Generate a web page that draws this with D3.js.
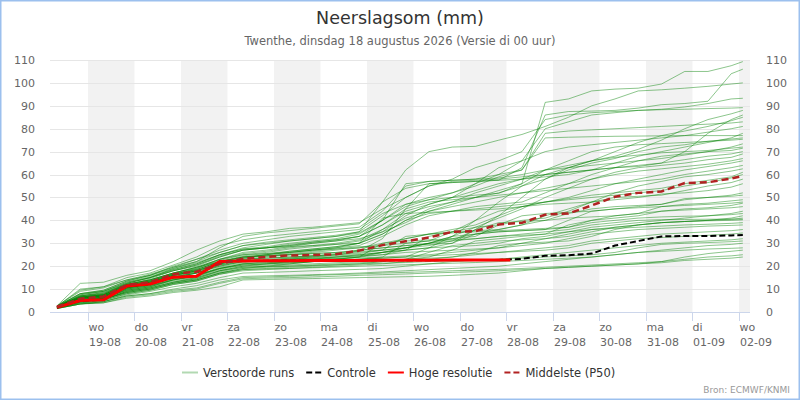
<!DOCTYPE html>
<html>
<head>
<meta charset="utf-8">
<script src="https://cdn.jsdelivr.net/npm/d3@7"></script>
<style>
  body { margin: 0; background: #fff; }
  svg { display: block; font-family: "DejaVu Sans", Verdana, sans-serif; }
</style>
</head>
<body>
<div id="chart"></div>
<script>
// uren vanaf di 18-08 00:00
const hours = [8, 20, 32, 44, 56, 68, 80, 92, 104, 116, 128, 140, 152, 164, 176, 188,
  200, 212, 224, 236, 248, 260, 272, 284, 296, 308, 320, 332, 344, 356, 362];
const hresHours = [8, 20, 32, 44, 56, 68, 80, 92, 104, 116, 128, 140, 152, 164, 176, 188,
  200, 212, 224, 236, 242];

const hres = [2.0, 5.0, 5.3, 11.3, 12.2, 15.2, 15.6, 22.0, 22.3, 22.4, 22.4, 22.5, 22.5, 22.5,
  22.6, 22.6, 22.6, 22.7, 22.7, 22.7, 22.7];
const controle = [2.0, 5.0, 5.3, 11.3, 12.2, 15.2, 15.6, 22.0, 22.3, 22.4, 22.4, 22.5, 22.5, 22.5,
  22.6, 22.6, 22.6, 22.7, 22.7, 22.7, 23.2, 24.5, 24.8, 25.5, 29, 31, 33, 33.2, 33.2, 33.4, 33.6];
const p50 = [2.3, 5.8, 6.8, 11.8, 13, 16.5, 17.6, 21, 23.3, 24, 24.7, 24.9, 25.2, 26.8, 29.2,
  30.9, 32.5, 35, 35.3, 38.2, 38.9, 42.5, 43, 46.5, 50.3, 52, 52.6, 56.3, 56.6, 58.3, 59.4];

const verstoordeRuns = [
  [2.6, 9, 10.5, 14, 16, 20, 23, 27, 30, 31.5, 33, 34, 35, 36, 43, 47, 49, 50, 51, 51.8, 56, 91.5, 93, 96.5, 97.3, 97.7, 99.5, 105, 105, 107.5, 109.3],
  [2.4, 7.5, 9, 12.5, 15, 19, 21.5, 25, 28, 29.5, 31, 32, 33, 35, 48, 54, 56, 56.5, 57, 57.5, 63, 86, 87.5, 87.7, 88, 89, 90.5, 91, 92, 104, 106],
  [2.5, 8, 9.5, 13.5, 16, 19.5, 22, 28, 33, 34.5, 35.5, 36.5, 37.5, 38.5, 48, 62, 70, 72, 72.3, 75, 77.5, 81, 85, 90, 93, 96.5, 97, 97.7, 98.5, 99.5, 100],
  [2.3, 6.5, 8, 12, 14, 17, 19.5, 23, 26, 27, 28.5, 30, 31, 33, 40, 46, 49, 52, 56, 60, 66, 80, 83, 86, 87, 88, 88.5, 89.5, 91, 93, 93.3],
  [2.7, 12.5, 13, 16, 18, 22, 27, 31, 34, 35, 36.5, 37, 38, 39, 45, 50, 55, 58, 63, 66, 70, 84, 86, 87, 87.5, 88, 88.3, 88.5, 88.8, 89, 89.2],
  [2.2, 6, 7, 11, 13, 16, 18, 21, 23.5, 25, 26, 27, 28, 30, 34, 40, 45, 48, 52, 55, 58, 62, 64, 66, 68, 71, 75, 80, 84, 86.5, 88],
  [2.4, 7, 8.5, 12, 14.5, 18, 20, 24, 27, 28, 29, 30.5, 31.5, 33, 38, 44, 47, 50, 53, 56, 58, 60, 61, 62, 63, 63.5, 65, 70, 78, 84, 86],
  [2.1, 5.5, 6.5, 10.5, 12, 15, 17, 20, 22, 22.5, 23, 23.5, 24, 24.5, 26, 28, 30, 33, 40, 48, 55, 60, 63, 66, 70, 74, 77, 79, 81, 83.5, 85],
  [2.6, 9.5, 11, 15, 17, 20.5, 24, 29, 31.5, 33, 34, 35, 36, 37, 44, 55, 57, 57.5, 58, 60, 62, 78, 79, 79.5, 80, 80.5, 81, 81.5, 82, 82.5, 83],
  [2.3, 6, 7.5, 11.5, 13.5, 16.5, 19, 22.5, 25, 26, 27.5, 28.5, 29.5, 31, 35, 42, 47, 50, 56, 63, 66, 70, 72, 73, 74, 75, 76, 77, 78.5, 80, 81],
  [2.0, 5, 6, 9.5, 11, 14, 16, 19, 21, 22, 23, 24, 25, 26.5, 32, 45, 56, 56.5, 57, 57.5, 58, 59, 60, 62, 65, 68, 70, 72, 74, 76, 78],
  [2.5, 10, 11, 14, 16.5, 19.5, 23, 26, 29, 30, 31, 32, 33, 34.5, 40, 47, 50, 52, 55, 59, 62, 76, 76.3, 76.5, 76.7, 76.8, 76.9, 77, 77, 77, 77],
  [2.2, 6.5, 7.5, 12, 14, 17, 19.5, 22, 24, 25, 26.5, 27.5, 28.5, 30, 36, 43, 46, 48, 50, 52, 55, 58, 62, 65, 67, 70, 72, 73, 74.5, 75.5, 76],
  [2.3, 7, 8, 12.5, 15, 18, 20.5, 24, 27, 28, 29, 30, 31, 32, 35, 39, 44, 47, 50, 53, 56, 62, 66, 70, 72, 73, 73.5, 74, 74.5, 75, 75.4],
  [2.4, 7.5, 9, 13, 15, 18.5, 21, 25, 27.5, 28.5, 30, 31, 32, 34, 40, 56, 57, 57.5, 58, 58.5, 60, 62, 63, 64, 65, 66, 67, 68.5, 70, 72, 73.4],
  [1.9, 4.5, 5.5, 9, 10.5, 13, 15, 18, 20, 21, 22, 23, 24, 25, 26, 27, 28, 30, 36, 42, 50, 58, 63, 66, 67.5, 68.5, 69.5, 70, 70.5, 71.5, 72],
  [2.2, 6, 7, 11, 13, 16, 18, 21.5, 24, 25, 26, 27, 28, 29, 33, 38, 42, 44, 46, 47, 48, 52, 56, 60, 63, 66, 68, 69, 70, 70.5, 71.5],
  [2.5, 8, 9.5, 13.5, 16, 19, 22, 26, 29, 30.5, 31.5, 32.5, 33.5, 35, 42, 50, 55, 57, 57.5, 58, 59, 60, 61, 62, 63, 64, 65, 66.5, 68, 69, 70],
  [2.0, 5, 6, 10, 11.5, 14.5, 16, 19.5, 21.5, 22.5, 23.5, 24.5, 25.5, 27, 28, 29, 30, 33, 37, 41, 45, 50, 54, 58, 61, 63, 64, 65, 66.5, 67.5, 69],
  [2.3, 6.5, 7.5, 12, 14, 17, 19, 23, 25.5, 26.5, 28, 29, 30, 31.5, 36, 41, 44, 46, 48, 50, 52, 54, 56, 58, 60, 61.5, 62.5, 63.5, 64.5, 66, 67],
  [2.1, 5.5, 6.5, 10.5, 12.5, 15.5, 17.5, 21, 23, 24, 25, 26, 27, 28, 30, 32, 34, 36, 38, 42, 46, 48, 50, 53, 56, 58, 60, 62, 63.5, 65, 66],
  [2.4, 7, 8.5, 12.5, 15, 18, 20.5, 24.5, 27, 28, 29.5, 30.5, 31.5, 33, 38, 45, 48, 49, 50, 51, 52, 53, 54, 55, 56, 57, 58, 60, 61.5, 63, 64],
  [1.8, 4.5, 5.5, 8.5, 10, 12.5, 14, 17, 19, 20, 21, 22, 23, 24, 26, 28, 30, 32, 34, 36, 38, 42, 45, 48, 52, 55, 57, 59, 60, 61.5, 62.5],
  [2.2, 6, 7, 11, 13, 16, 18, 21.5, 23.5, 24.5, 25.5, 26.5, 27.5, 28.5, 29, 30, 31, 35, 40, 44, 46, 48, 49.5, 51, 52, 53, 54, 56, 57.5, 59, 61],
  [2.3, 6.5, 7.5, 11.5, 13.5, 16.5, 18.5, 22, 24.5, 25.5, 26.5, 27.5, 28.5, 30, 34, 40, 43, 44, 45, 46, 47, 48, 49, 50, 51, 52, 53, 55, 56.5, 58.5, 60],
  [2.0, 5, 6, 9.5, 11, 14, 15.5, 19, 21, 21.5, 22, 22.5, 23, 24, 30, 31, 31.5, 32, 33, 38, 40, 41, 44, 48, 50, 50.5, 51, 53, 55, 56.5, 58],
  [2.5, 8, 9, 13, 15.5, 18.5, 21, 25, 27.5, 28, 28.5, 29, 29.5, 30, 41, 43, 43.5, 44, 44.5, 45, 46, 47, 47.5, 48, 49, 50, 51.5, 52, 53, 54.5, 56],
  [1.9, 4.5, 5.5, 9, 10.5, 13, 14.5, 18, 20, 20.5, 21, 22, 22.5, 23, 23.5, 24, 28, 33, 34, 35, 35.5, 36, 40, 44, 45, 46, 47, 49.5, 50, 51, 52],
  [2.2, 6, 7, 11, 13, 16, 18, 21, 23, 23.5, 24, 24.5, 25, 26, 27, 28, 29, 31, 36, 39, 39.5, 40, 43, 45, 46, 46.5, 47, 49, 50, 50.5, 51],
  [2.1, 5.5, 6.5, 10.5, 12, 15, 17, 20.5, 22.5, 23, 23.5, 24, 24.5, 25, 26, 27, 33, 35, 35.5, 36, 38, 40, 41, 41.5, 42, 43, 46, 47, 47.5, 48.5, 49],
  [2.4, 7, 8, 12, 14, 17, 19.5, 23, 25, 25.5, 26, 27, 27.5, 28, 29, 32, 34, 35, 37, 38, 42, 43, 43.5, 44, 45, 45.5, 46, 46.5, 47, 47.5, 48],
  [1.7, 4, 5, 8, 9.5, 12, 13.5, 16.5, 18.5, 19, 19.5, 20, 20.5, 21, 22, 23, 24, 27, 31, 32, 33, 34, 38, 40, 41, 42, 44, 45, 45.5, 46.5, 47.5],
  [2.3, 6.5, 7.5, 11.5, 13.5, 16.5, 18.5, 22, 24, 24.5, 25, 25.5, 26, 27, 28, 29, 29.5, 30, 34, 35, 35.5, 36, 37, 40, 42, 43, 44, 44.5, 45, 45.5, 46],
  [2.0, 5, 6, 10, 11.5, 14, 16, 19, 21, 21.5, 22, 23, 23.5, 24, 25, 27, 28, 28.5, 29, 30, 32, 33, 35, 37, 38, 39, 40, 41, 42, 43, 44],
  [2.2, 6, 7, 11, 13, 16, 17.5, 21, 23, 23.5, 24, 24.5, 25, 25.5, 27, 33, 34, 34.5, 35, 35.5, 36, 36.5, 37, 39, 40, 41, 41.5, 41.8, 42, 42.5, 43],
  [1.8, 4.5, 5.5, 8.5, 10, 12.5, 14, 17, 19, 19.5, 20, 20.5, 21, 21.5, 22, 23, 26, 29, 30, 31, 31.5, 32, 33, 35, 37, 38, 39, 39.5, 40, 41, 42],
  [2.1, 5.5, 6.5, 10.5, 12, 15, 17, 20, 22, 22.5, 23, 23.5, 24, 24.5, 25, 26, 26.5, 27, 27.5, 28, 30, 32, 34, 36, 37, 38, 39, 39.5, 40, 40.5, 41],
  [2.3, 6.5, 7.5, 11.5, 13.5, 16.5, 18.5, 22, 24, 24.5, 25, 25.5, 26, 26.5, 27, 28, 30, 31, 32, 33, 34, 35, 36, 38, 39, 40, 40.3, 40.4, 40.5, 40.5, 40.5],
  [1.9, 4.5, 5.5, 9, 10.5, 13, 14.5, 17.5, 19.5, 20, 20.5, 21, 21.5, 22, 22.5, 23, 23.5, 24, 26, 29, 30, 30.5, 31, 33, 36, 38, 39, 39.5, 39.8, 40, 40.2],
  [2.0, 5, 6, 10, 11.5, 14, 15.5, 18.5, 20.5, 21, 21.5, 22, 22.5, 23, 24, 30, 31, 31.5, 32, 33, 33.5, 34, 35, 36, 36.5, 37, 37.5, 38, 38.3, 38.7, 39],
  [2.2, 6, 7, 11, 12.5, 15.5, 17, 20.5, 22, 22.3, 22.6, 23, 23.3, 23.6, 24, 24.5, 25, 26, 27, 28, 29, 30, 32, 34, 35, 36, 36.5, 37, 37.5, 37.8, 38],
  [1.8, 4, 5, 8, 9.5, 12, 13.5, 16.5, 18, 18.5, 19, 19.5, 20, 20.5, 21, 22, 23, 24, 25, 26, 27, 28, 29, 31, 32, 33, 34, 34.5, 35, 35.5, 36],
  [2.1, 5.5, 6.5, 10.5, 12, 14.5, 16, 19, 20.5, 21, 21.5, 22, 22.5, 23, 23.5, 24, 24.5, 25, 25.5, 26, 26.5, 27, 28, 30, 31, 32, 32.5, 33, 33.5, 34, 34.5],
  [1.7, 4, 4.5, 7.5, 9, 11, 12.5, 15, 17, 17.3, 17.6, 18, 18.3, 18.6, 19, 20, 21, 22, 22.5, 23, 24, 25, 26, 27, 28, 29, 30, 30.5, 31, 31.5, 32],
  [2.0, 5, 6, 9.5, 11, 13.5, 15, 18, 19.5, 19.8, 20, 20.3, 20.6, 21, 21.3, 21.6, 22, 22.3, 22.6, 23, 23.5, 24, 24.5, 25, 26, 28, 29.5, 30, 30.3, 30.7, 31],
  [1.6, 3.5, 4.5, 7, 8, 10, 11.5, 14, 15.5, 15.8, 16, 16.3, 16.6, 17, 17.5, 18, 18.5, 19, 19.5, 20, 21, 22, 23, 24, 25, 26, 27, 28, 29, 29.5, 30],
  [1.9, 4.5, 5.5, 8.5, 10, 12.5, 14, 17, 18.5, 18.8, 19, 19.3, 19.6, 20, 20.3, 20.6, 21, 21.3, 21.6, 22, 22.5, 23, 23.5, 24, 25, 26, 26.5, 27, 27.5, 27.8, 28],
  [1.5, 3.5, 4, 6.5, 7.5, 9, 10, 12.5, 14.5, 14.8, 15, 15.3, 15.6, 16, 16.3, 16.6, 17, 17.3, 17.6, 18, 18.5, 19, 19.5, 20, 20.5, 21, 22, 24, 25.5, 26.5, 27],
  [1.6, 3.5, 4.5, 7, 8, 9.5, 10.5, 13, 15, 15.3, 15.6, 16, 16.3, 16.6, 17, 17.3, 17.6, 18, 18.3, 18.6, 19, 19.5, 20, 20.5, 21, 21.5, 22, 23, 24, 24.5, 25],
  [1.5, 3.5, 4, 6, 7, 8.5, 9.5, 11, 14, 14.2, 14.4, 14.6, 14.8, 15, 15.2, 15.4, 15.6, 16, 16.5, 17, 18, 19, 19.5, 20, 20.5, 21, 21.5, 22.5, 23, 23.5, 24]
];

// as-labels
const dayHours = [24, 48, 72, 96, 120, 144, 168, 192, 216, 240, 264, 288, 312, 336, 360];
const dayNames = ['wo', 'do', 'vr', 'za', 'zo', 'ma', 'di', 'wo', 'do', 'vr', 'za', 'zo', 'ma', 'di', 'wo'];
const dayDates = ['19-08', '20-08', '21-08', '22-08', '23-08', '24-08', '25-08', '26-08',
  '27-08', '28-08', '29-08', '30-08', '31-08', '01-09', '02-09'];
const shadedDays = [24, 72, 120, 168, 216, 264, 312, 360];
const yTicks = [0, 10, 20, 30, 40, 50, 60, 70, 80, 90, 100, 110];

const width = 800, height = 400;
const plot = { left: 50, right: 750, top: 60, bottom: 312 };

const svg = d3.select('#chart').append('svg')
  .attr('width', width)
  .attr('height', height);

svg.append('rect')
  .attr('x', 0.75).attr('y', 0.75)
  .attr('width', width - 1.5).attr('height', height - 1.5)
  .attr('fill', '#fff')
  .attr('stroke', '#9cc0ee')
  .attr('stroke-width', 1.5);

const x = d3.scaleLinear().domain([4.4, 365.7]).range([plot.left, plot.right]);
const y = d3.scaleLinear().domain([0, 110]).range([plot.bottom, plot.top]);

// banden voor om-en-om dagen
svg.append('g')
  .selectAll('rect')
  .data(shadedDays)
  .join('rect')
    .attr('x', d => x(d))
    .attr('y', plot.top)
    .attr('width', d => Math.min(x(d + 24), plot.right) - x(d))
    .attr('height', plot.bottom - plot.top)
    .attr('fill', '#f2f2f2');

// rasterlijnen
svg.append('g')
  .selectAll('line')
  .data(yTicks.filter(d => d > 0))
  .join('line')
    .attr('x1', plot.left).attr('x2', plot.right)
    .attr('y1', d => Math.round(y(d)) + 0.5)
    .attr('y2', d => Math.round(y(d)) + 0.5)
    .attr('stroke', '#e6e6e6');

// y-assen links en rechts
const yLeft = svg.append('g')
  .attr('transform', `translate(${plot.left - 15},0)`)
  .call(d3.axisLeft(y).tickValues(yTicks).tickSize(0).tickPadding(0));
const yRight = svg.append('g')
  .attr('transform', `translate(${plot.right + 16},0)`)
  .call(d3.axisRight(y).tickValues(yTicks).tickSize(0).tickPadding(0));
[yLeft, yRight].forEach(g => {
  g.select('.domain').remove();
  g.selectAll('text')
    .attr('fill', '#666')
    .style('font-size', '11px')
    .style('font-family', '"DejaVu Sans", Verdana, sans-serif');
});

// x-as
svg.append('line')
  .attr('x1', plot.left).attr('x2', plot.right)
  .attr('y1', plot.bottom + 0.5).attr('y2', plot.bottom + 0.5)
  .attr('stroke', '#ccd6eb');

const xTicks = svg.append('g')
  .selectAll('g')
  .data(dayHours)
  .join('g')
    .attr('transform', d => `translate(${Math.round(x(d)) + 0.5},0)`);
xTicks.append('line')
  .attr('y1', plot.bottom).attr('y2', plot.bottom + 9)
  .attr('stroke', '#ccd6eb');
xTicks.append('text')
  .attr('x', 0).attr('y', 330.5)
  .attr('fill', '#666')
  .style('font-size', '11px')
  .text((d, i) => dayNames[i]);
xTicks.append('text')
  .attr('x', 0.5).attr('y', 345.5)
  .attr('fill', '#666')
  .style('font-size', '11px')
  .text((d, i) => dayDates[i]);

// lijnen
const line = d3.line()
  .x(d => x(d[0]))
  .y(d => y(d[1]));

svg.append('g')
  .selectAll('path')
  .data(verstoordeRuns)
  .join('path')
    .attr('d', run => line(run.map((v, i) => [hours[i], v])))
    .attr('fill', 'none')
    .attr('stroke', '#008000')
    .attr('stroke-opacity', 0.45)
    .attr('stroke-width', 1);

svg.append('path')
  .attr('d', line(controle.map((v, i) => [hours[i], v])))
  .attr('fill', 'none')
  .attr('stroke', '#000')
  .attr('stroke-width', 2)
  .attr('stroke-dasharray', '6,3');

svg.append('path')
  .attr('d', line(hres.map((v, i) => [hresHours[i], v])))
  .attr('fill', 'none')
  .attr('stroke', '#ff0000')
  .attr('stroke-width', 3)
  .attr('stroke-linejoin', 'round');

svg.append('path')
  .attr('d', line(p50.map((v, i) => [hours[i], v])))
  .attr('fill', 'none')
  .attr('stroke', '#b22222')
  .attr('stroke-width', 2.5)
  .attr('stroke-dasharray', '7,4');

// titels
svg.append('text')
  .attr('x', 400).attr('y', 24)
  .attr('text-anchor', 'middle')
  .attr('fill', '#333')
  .style('font-size', '17.5px')
  .text('Neerslagsom (mm)');
svg.append('text')
  .attr('x', 400).attr('y', 45)
  .attr('text-anchor', 'middle')
  .attr('fill', '#666')
  .style('font-size', '11.5px')
  .text('Twenthe, dinsdag 18 augustus 2026 (Versie di 00 uur)');

// legenda
const legendItems = [
  { name: 'Verstoorde runs', color: 'rgba(0,128,0,0.3)', width: 2, dash: null },
  { name: 'Controle', color: '#000', width: 2, dash: '6,3' },
  { name: 'Hoge resolutie', color: '#ff0000', width: 2, dash: null },
  { name: 'Middelste (P50)', color: '#b22222', width: 2, dash: '6,3' }
];
const legend = svg.append('g');
let lx = 182;
legendItems.forEach(item => {
  const g = legend.append('g').attr('transform', `translate(${lx},0)`);
  g.append('line')
    .attr('x1', 0).attr('x2', 16)
    .attr('y1', 372.5).attr('y2', 372.5)
    .attr('stroke', item.color)
    .attr('stroke-width', item.width)
    .attr('stroke-dasharray', item.dash);
  const t = g.append('text')
    .attr('x', 21).attr('y', 377)
    .attr('fill', '#333')
    .style('font-size', '11.5px')
    .text(item.name);
  lx += 21 + t.node().getComputedTextLength() + 12;
});

svg.append('text')
  .attr('x', 790).attr('y', 393)
  .attr('text-anchor', 'end')
  .attr('fill', '#999')
  .style('font-size', '9px')
  .text('Bron: ECMWF/KNMI');
</script>
</body>
</html>
